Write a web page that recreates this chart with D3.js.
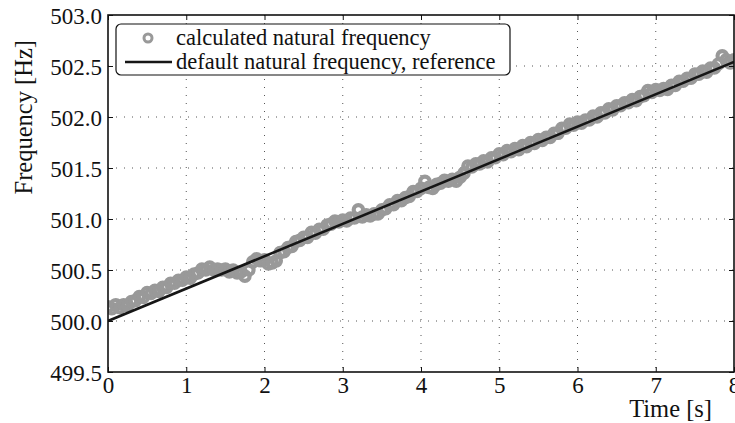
<!DOCTYPE html>
<html>
<head>
<meta charset="utf-8">
<script src="https://cdn.jsdelivr.net/npm/d3@7"></script>
<style>
  body { margin: 0; background: #fff; }
</style>
</head>
<body>
<svg id="chart"></svg>
<script>
// sampled time [s]
const timeValues = [
  0.00, 0.05, 0.10, 0.15, 0.20, 0.25, 0.30, 0.35, 0.40, 0.45,
  0.50, 0.55, 0.60, 0.65, 0.70, 0.75, 0.80, 0.85, 0.90, 0.95,
  1.00, 1.05, 1.10, 1.15, 1.20, 1.25, 1.30, 1.35, 1.40, 1.45,
  1.50, 1.55, 1.60, 1.65, 1.70, 1.75, 1.80, 1.85, 1.90, 1.95,
  2.00, 2.05, 2.10, 2.15, 2.20, 2.25, 2.30, 2.35, 2.40, 2.45,
  2.50, 2.55, 2.60, 2.65, 2.70, 2.75, 2.80, 2.85, 2.90, 2.95,
  3.00, 3.05, 3.10, 3.15, 3.20, 3.25, 3.30, 3.35, 3.40, 3.45,
  3.50, 3.55, 3.60, 3.65, 3.70, 3.75, 3.80, 3.85, 3.90, 3.95,
  4.00, 4.05, 4.10, 4.15, 4.20, 4.25, 4.30, 4.35, 4.40, 4.45,
  4.50, 4.55, 4.60, 4.65, 4.70, 4.75, 4.80, 4.85, 4.90, 4.95,
  5.00, 5.05, 5.10, 5.15, 5.20, 5.25, 5.30, 5.35, 5.40, 5.45,
  5.50, 5.55, 5.60, 5.65, 5.70, 5.75, 5.80, 5.85, 5.90, 5.95,
  6.00, 6.05, 6.10, 6.15, 6.20, 6.25, 6.30, 6.35, 6.40, 6.45,
  6.50, 6.55, 6.60, 6.65, 6.70, 6.75, 6.80, 6.85, 6.90, 6.95,
  7.00, 7.05, 7.10, 7.15, 7.20, 7.25, 7.30, 7.35, 7.40, 7.45,
  7.50, 7.55, 7.60, 7.65, 7.70, 7.75, 7.80, 7.85, 7.90, 7.95,
  8.00
];

// calculated natural frequency [Hz]
const calcFreq = [
  500.14, 500.12, 500.16, 500.13, 500.16, 500.15, 500.19, 500.20, 500.24, 500.23,
  500.28, 500.27, 500.30, 500.29, 500.33, 500.33, 500.37, 500.37, 500.40, 500.40,
  500.43, 500.42, 500.46, 500.47, 500.51, 500.50, 500.53, 500.50, 500.51, 500.50,
  500.51, 500.48, 500.50, 500.47, 500.48, 500.44, 500.50, 500.58, 500.61, 500.59,
  500.60, 500.56, 500.57, 500.59, 500.67, 500.68, 500.72, 500.73, 500.78, 500.79,
  500.82, 500.82, 500.87, 500.86, 500.90, 500.90, 500.94, 500.95, 500.98, 500.97,
  500.99, 500.98, 501.01, 501.01, 501.09, 501.02, 501.04, 501.03, 501.05, 501.05,
  501.09, 501.10, 501.14, 501.14, 501.18, 501.18, 501.21, 501.22, 501.27, 501.27,
  501.30, 501.37, 501.31, 501.30, 501.34, 501.35, 501.38, 501.37, 501.39, 501.37,
  501.41, 501.45, 501.52, 501.51, 501.54, 501.54, 501.57, 501.56, 501.60, 501.60,
  501.64, 501.63, 501.67, 501.66, 501.69, 501.68, 501.72, 501.71, 501.75, 501.74,
  501.78, 501.77, 501.80, 501.80, 501.84, 501.84, 501.89, 501.89, 501.93, 501.92,
  501.95, 501.94, 501.97, 501.97, 502.01, 502.00, 502.04, 502.04, 502.08, 502.07,
  502.11, 502.11, 502.14, 502.14, 502.17, 502.16, 502.20, 502.21, 502.26, 502.24,
  502.27, 502.26, 502.28, 502.27, 502.31, 502.31, 502.35, 502.35, 502.38, 502.38,
  502.42, 502.42, 502.45, 502.44, 502.48, 502.48, 502.52, 502.60, 502.56, 502.53,
  502.56
];

// default natural frequency (reference line)
const refTime = [0, 8];
const refFreq = [500.0, 502.54];

const xTicks = [0, 1, 2, 3, 4, 5, 6, 7, 8];
const yTicks = [499.5, 500.0, 500.5, 501.0, 501.5, 502.0, 502.5, 503.0];

const legendLabels = ["calculated natural frequency", "default natural frequency, reference"];

const fontFamily = '"Liberation Serif", "Times New Roman", serif';

const width = 735, height = 423;
const margin = { top: 15, right: 1, bottom: 51, left: 108 };
const innerW = width - margin.left - margin.right;
const innerH = height - margin.top - margin.bottom;

const svg = d3.select("#chart").attr("width", width).attr("height", height);

const x = d3.scaleLinear().domain([0, 8]).range([0, innerW]);
const y = d3.scaleLinear().domain([499.5, 503.0]).range([innerH, 0]);

const g = svg.append("g").attr("transform", `translate(${margin.left},${margin.top})`);

svg.append("defs").append("clipPath").attr("id", "plotClip")
  .append("rect").attr("width", innerW).attr("height", innerH);

// dotted grid
g.append("g").attr("class", "grid-x")
  .selectAll("line").data(xTicks.slice(1, -1)).enter().append("line")
  .attr("x1", d => x(d)).attr("x2", d => x(d))
  .attr("y1", 0).attr("y2", innerH)
  .attr("stroke", "#555").attr("stroke-width", 1).attr("stroke-dasharray", "1,7");

g.append("g").attr("class", "grid-y")
  .selectAll("line").data(yTicks.slice(1, -1)).enter().append("line")
  .attr("x1", 0).attr("x2", innerW)
  .attr("y1", d => y(d)).attr("y2", d => y(d))
  .attr("stroke", "#555").attr("stroke-width", 1).attr("stroke-dasharray", "1,7");

const plot = g.append("g").attr("clip-path", "url(#plotClip)");

// calculated points
plot.selectAll("circle").data(timeValues).enter().append("circle")
  .attr("cx", d => x(d))
  .attr("cy", (d, i) => y(calcFreq[i]))
  .attr("r", 4.7)
  .attr("fill", "none")
  .attr("stroke", "#999")
  .attr("stroke-width", 4.2);

// reference line
const line = d3.line().x(d => x(d[0])).y(d => y(d[1]));
plot.append("path")
  .datum(refTime.map((t, i) => [t, refFreq[i]]))
  .attr("d", line)
  .attr("fill", "none")
  .attr("stroke", "#161616")
  .attr("stroke-width", 2.6);

// axes with inward ticks on all four sides
const tickLen = 5;
const xBottom = g.append("g").attr("transform", `translate(0,${innerH})`)
  .call(d3.axisBottom(x).tickValues(xTicks).tickSize(-tickLen).tickPadding(5).tickFormat(d3.format("d")));
const xTop = g.append("g")
  .call(d3.axisTop(x).tickValues(xTicks).tickSize(-tickLen).tickFormat(""));
const yLeft = g.append("g")
  .call(d3.axisLeft(y).tickValues(yTicks).tickSize(-tickLen).tickPadding(6).tickFormat(d3.format(".1f")));
const yRight = g.append("g").attr("transform", `translate(${innerW},0)`)
  .call(d3.axisRight(y).tickValues(yTicks).tickSize(-tickLen).tickFormat(""));

[xBottom, xTop, yLeft, yRight].forEach(a => {
  a.attr("font-family", fontFamily);
  a.select(".domain").remove();
  a.selectAll(".tick line").attr("stroke", "#111").attr("stroke-width", 1);
  a.selectAll("text").style("font-size", "23px").style("font-family", fontFamily).attr("fill", "#111");
});
yLeft.selectAll("text").attr("dy", "0.36em");

// frame
g.append("rect")
  .attr("width", innerW).attr("height", innerH)
  .attr("fill", "none").attr("stroke", "#111").attr("stroke-width", 1.6);

// axis labels
svg.append("text")
  .attr("x", 712).attr("y", 417)
  .attr("text-anchor", "end")
  .style("font-family", fontFamily)
  .style("font-size", "24.5px")
  .attr("fill", "#111")
  .text("Time [s]");

svg.append("text")
  .attr("transform", "translate(32,40) rotate(-90)")
  .attr("text-anchor", "end")
  .style("font-family", fontFamily)
  .style("font-size", "24.5px")
  .attr("fill", "#111")
  .text("Frequency [Hz]");

// legend
const legend = svg.append("g").attr("class", "legend");
legend.append("rect")
  .attr("x", 116).attr("y", 24).attr("width", 394).attr("height", 51)
  .attr("rx", 5).attr("ry", 5)
  .attr("fill", "#fff").attr("stroke", "#111").attr("stroke-width", 1.2);

legend.append("circle")
  .attr("cx", 148).attr("cy", 38).attr("r", 4)
  .attr("fill", "none").attr("stroke", "#999").attr("stroke-width", 3);

legend.append("line")
  .attr("x1", 125).attr("x2", 172).attr("y1", 62).attr("y2", 62)
  .attr("stroke", "#161616").attr("stroke-width", 2.6);

legend.selectAll("text.lab").data(legendLabels).enter().append("text")
  .attr("class", "lab")
  .attr("x", 176)
  .attr("y", (d, i) => 38 + i * 24)
  .attr("dy", "0.33em")
  .style("font-family", fontFamily)
  .style("font-size", "22.5px")
  .attr("fill", "#111")
  .text(d => d);
</script>
</body>
</html>
